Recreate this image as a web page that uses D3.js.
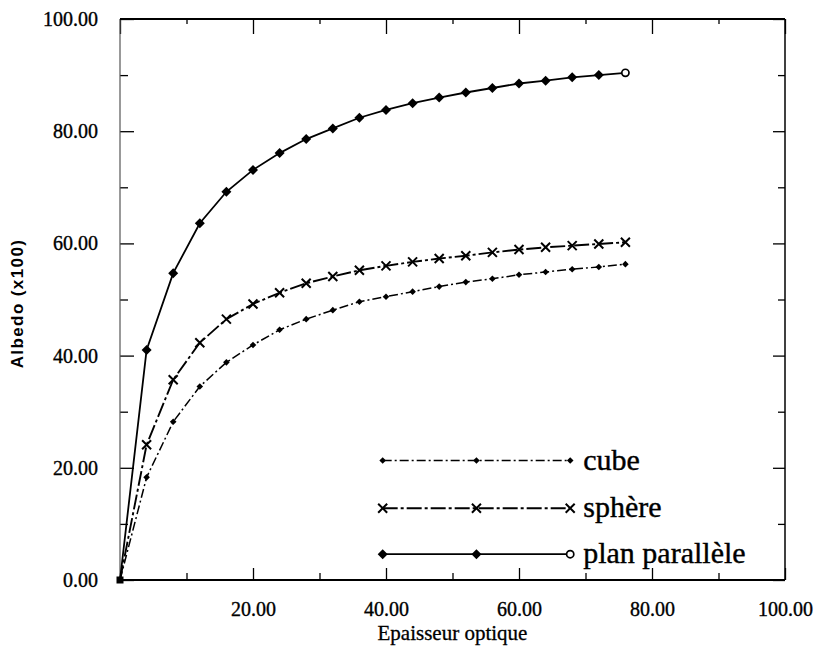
<!DOCTYPE html>
<html>
<head>
<meta charset="utf-8">
<script src="https://cdn.jsdelivr.net/npm/d3@7"></script>
<style>
  body { margin: 0; background: #fff; }
  svg { display: block; }
</style>
</head>
<body>
<div id="chart"></div>
<script>
/**
 * DATA
 * */
const epaisseur = [0, 4, 8, 12, 16, 20, 24, 28, 32, 36, 40, 44, 48, 52, 56, 60, 64, 68, 72, 76];
const cube = [0, 18.3, 28.2, 34.5, 38.8, 41.9, 44.6, 46.5, 48.1, 49.6, 50.5, 51.4, 52.3, 53.1, 53.7, 54.4, 54.9, 55.4, 55.8, 56.3];
const sphere = [0, 24.1, 35.7, 42.3, 46.5, 49.2, 51.2, 52.9, 54.1, 55.2, 56.0, 56.7, 57.3, 57.8, 58.4, 58.9, 59.3, 59.6, 59.9, 60.2];
const planParallele = [0, 41.0, 54.7, 63.6, 69.2, 73.1, 76.1, 78.6, 80.5, 82.4, 83.8, 85.0, 86.0, 86.9, 87.7, 88.5, 89.0, 89.6, 90.0, 90.4];
const seriesNames = ["cube", "sphère", "plan parallèle"];
const majorTicks = [0, 20, 40, 60, 80, 100];
const minorTicks = [10, 30, 50, 70, 90];

/**
 * CONSTANTS
 * */
const width = 815, height = 651;
const margin = { top: 19, right: 30, bottom: 71, left: 120 };
const serif = "'Liberation Serif', 'Times New Roman', serif";

const x = d3.scaleLinear().domain([0, 100]).range([margin.left, width - margin.right]);
const y = d3.scaleLinear().domain([0, 100]).range([height - margin.bottom, margin.top]);

const svg = d3.select("#chart").append("svg")
  .attr("width", width)
  .attr("height", height);

const fmt = d3.format(".2f");

// ticks point inward on all four sides
function styleAxis(g) {
  g.select(".domain").remove();
  g.selectAll(".tick line").attr("stroke", "#000").attr("stroke-width", 1.3);
  g.selectAll(".tick text")
    .style("font-family", serif)
    .style("font-size", "20px")
    .attr("fill", "#000")
    .attr("stroke", "#000").attr("stroke-width", 0.35);
}

// left
svg.append("g").attr("transform", `translate(${margin.left},0)`)
  .call(d3.axisLeft(y).tickValues(majorTicks).tickSize(-14).tickPadding(22).tickFormat(fmt))
  .call(styleAxis);
svg.append("g").attr("transform", `translate(${margin.left},0)`)
  .call(d3.axisLeft(y).tickValues(minorTicks).tickSize(-8).tickFormat(""))
  .call(styleAxis);

// bottom
svg.append("g").attr("transform", `translate(0,${y(0)})`)
  .call(d3.axisBottom(x).tickValues(majorTicks.slice(1)).tickSize(-12).tickPadding(22).tickFormat(fmt))
  .call(styleAxis);
svg.append("g").attr("transform", `translate(0,${y(0)})`)
  .call(d3.axisBottom(x).tickValues(minorTicks).tickSize(-7).tickFormat(""))
  .call(styleAxis);

// top
svg.append("g").attr("transform", `translate(0,${y(100)})`)
  .call(d3.axisTop(x).tickValues(majorTicks).tickSize(-15).tickFormat(""))
  .call(styleAxis);
svg.append("g").attr("transform", `translate(0,${y(100)})`)
  .call(d3.axisTop(x).tickValues(minorTicks).tickSize(-5).tickFormat(""))
  .call(styleAxis);

// right
svg.append("g").attr("transform", `translate(${x(100)},0)`)
  .call(d3.axisRight(y).tickValues(majorTicks).tickSize(-12).tickFormat(""))
  .call(styleAxis);
svg.append("g").attr("transform", `translate(${x(100)},0)`)
  .call(d3.axisRight(y).tickValues(minorTicks).tickSize(-7).tickFormat(""))
  .call(styleAxis);

// frame lines
svg.append("line").attr("x1", x(0)).attr("x2", x(0)).attr("y1", y(0)).attr("y2", y(100))
  .attr("stroke", "#555").attr("stroke-width", 1.2);
svg.append("line").attr("x1", x(0)).attr("x2", x(100)).attr("y1", y(100)).attr("y2", y(100))
  .attr("stroke", "#000").attr("stroke-width", 2.2);
svg.append("line").attr("x1", x(0)).attr("x2", x(100)).attr("y1", y(0)).attr("y2", y(0))
  .attr("stroke", "#000").attr("stroke-width", 2.2);
svg.append("line").attr("x1", x(100)).attr("x2", x(100)).attr("y1", y(0)).attr("y2", y(100))
  .attr("stroke", "#000").attr("stroke-width", 1.5);

// axis titles
svg.append("text")
  .attr("x", (x(0) + x(100)) / 2).attr("y", 640)
  .attr("text-anchor", "middle")
  .style("font-family", serif).style("font-size", "21px")
  .attr("stroke", "#000").attr("stroke-width", 0.3)
  .text("Epaisseur optique");

svg.append("text")
  .attr("transform", `translate(23,${(y(0) + y(100)) / 2 + 4}) rotate(-90)`)
  .attr("text-anchor", "middle")
  .style("font-family", "'Liberation Sans', sans-serif").style("font-weight", "bold")
  .style("font-size", "17px").style("letter-spacing", "1.4px")
  .text("Albedo (x100)");

/**
 * SERIES
 * */
const series = [
  { name: seriesNames[0], values: cube, dash: "9,3,2,3", width: 1.5, marker: "dot" },
  { name: seriesNames[1], values: sphere, dash: "15,3,3,3", width: 1.9, marker: "cross" },
  { name: seriesNames[2], values: planParallele, dash: null, width: 1.8, marker: "diamond" },
];

const line = d3.line().x(d => x(d[0])).y(d => y(d[1]));

function drawMarker(g, kind, px, py, last) {
  if (kind === "diamond" && last) {
    g.append("circle").attr("cx", px).attr("cy", py).attr("r", 3.6)
      .attr("fill", "#fff").attr("stroke", "#000").attr("stroke-width", 1.7);
  } else if (kind === "diamond") {
    g.append("path").attr("d", "M0,-5L5,0L0,5L-5,0Z")
      .attr("transform", `translate(${px},${py})`).attr("fill", "#000");
  } else if (kind === "cross") {
    g.append("path").attr("d", "M-4.5,-4.5L4.5,4.5M-4.5,4.5L4.5,-4.5")
      .attr("transform", `translate(${px},${py})`)
      .attr("stroke", "#000").attr("stroke-width", 2).attr("fill", "none");
  } else {
    g.append("path").attr("d", "M0,-3.3L3.3,0L0,3.3L-3.3,0Z")
      .attr("transform", `translate(${px},${py})`).attr("fill", "#000");
  }
}

series.forEach(s => {
  const pts = epaisseur.map((e, i) => [e, s.values[i]]);
  svg.append("path")
    .datum(pts)
    .attr("d", line)
    .attr("fill", "none")
    .attr("stroke", "#000")
    .attr("stroke-width", s.width)
    .attr("stroke-dasharray", s.dash);
  const g = svg.append("g");
  pts.slice(1).forEach((p, i) => drawMarker(g, s.marker, x(p[0]), y(p[1]), i === pts.length - 2));
});

// origin blob
svg.append("rect").attr("x", x(0) - 3.5).attr("y", y(0) - 3.5).attr("width", 7).attr("height", 7).attr("fill", "#000");

/**
 * LEGEND
 * */
const legendX = [x(39.5), x(53.6), x(67.7)];
const legendY = [y(21.3), y(12.8), y(4.6)];

series.forEach((s, i) => {
  const ly = legendY[i];
  svg.append("line")
    .attr("x1", legendX[0]).attr("x2", legendX[2])
    .attr("y1", ly).attr("y2", ly)
    .attr("stroke", "#000").attr("stroke-width", s.width)
    .attr("stroke-dasharray", s.dash);
  const g = svg.append("g");
  legendX.forEach((lx, j) => drawMarker(g, s.marker, lx, ly, j === 2));
  svg.append("text")
    .attr("x", legendX[2] + 13).attr("y", ly + 9)
    .style("font-family", serif).style("font-size", "30px")
    .attr("stroke", "#000").attr("stroke-width", 0.4)
    .text(s.name);
});
</script>
</body>
</html>
